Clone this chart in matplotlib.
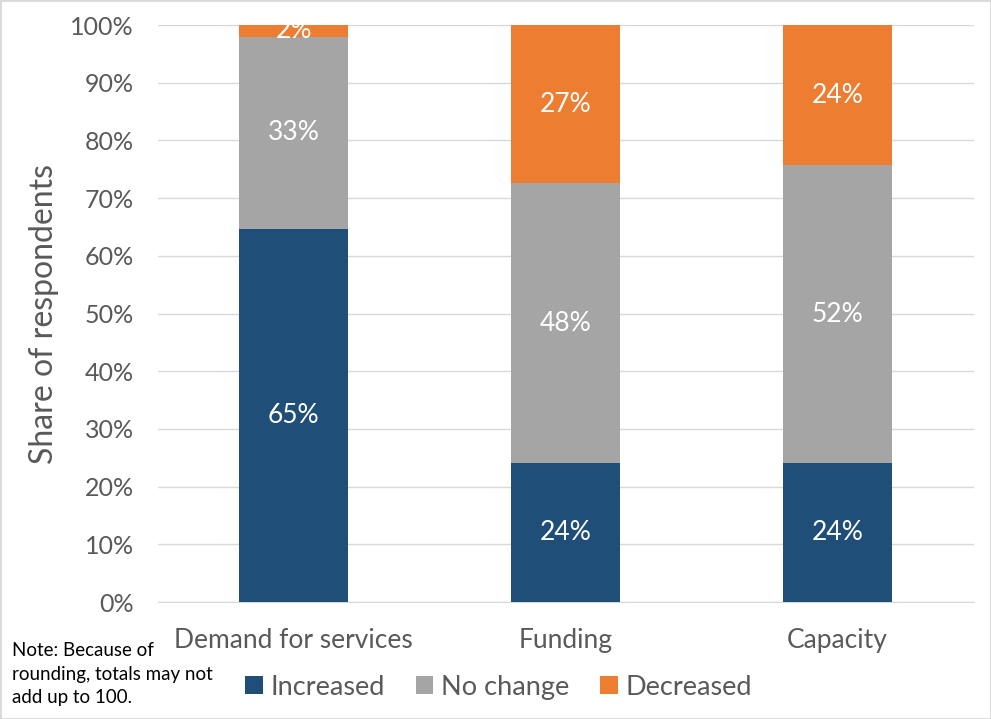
import numpy as np
import matplotlib.pyplot as plt
from matplotlib.patches import Rectangle

plt.rcParams['font.family'] = ['Lato', 'DejaVu Sans']

categories = ["Demand for services", "Funding", "Capacity"]
increased = [64.6, 24.1, 24.1]
no_change = [33.4, 48.5, 51.6]
decreased = [2.1, 27.4, 24.3]
series_names = ["Increased", "No change", "Decreased"]
colors = ["#1F4E79", "#A5A5A5", "#ED7D31"]

fig = plt.figure(figsize=(9.91, 7.19), dpi=100)
ax = fig.add_axes([0.159, 0.1627, 0.8234, 0.8025])

x = np.arange(len(categories))
bottom = np.zeros(len(categories))
handles = []
for vals, name, col in zip([increased, no_change, decreased], series_names, colors):
    vals = np.array(vals)
    b = ax.bar(x, vals, 0.4, bottom=bottom, color=col, label=name, zorder=3)
    handles.append(b)
    for xi, v, bt in zip(x, vals, bottom):
        ax.text(xi, bt + v / 2, f"{round(v)}%", ha="center", va="center",
                color="white", fontsize=19, zorder=4)
    bottom += vals

ax.set_xlim(-0.5, 2.5)
ax.set_ylim(0, 100)
ax.set_yticks(range(0, 101, 10))
ax.set_yticklabels([f"{t}%" for t in range(0, 101, 10)])
ax.set_xticks(x)
ax.set_xticklabels(categories)
ax.tick_params(axis="both", length=0, labelcolor="#595959")
ax.tick_params(axis="x", pad=19, labelsize=19)
ax.tick_params(axis="y", pad=17, labelsize=18)
ax.grid(axis="y", color="#D9D9D9", linewidth=1, zorder=0)
for s in ["top", "right", "left"]:
    ax.spines[s].set_visible(False)
ax.spines["bottom"].set_color("#D9D9D9")
ax.set_ylabel("Share of respondents", fontsize=23, color="#595959", labelpad=8)

fig.legend(handles=handles, labels=series_names, loc="center", bbox_to_anchor=(0.503, 0.044),
           ncol=3, frameon=False, fontsize=19.5, labelcolor="#595959",
           handlelength=0.65, handleheight=0.65, handletextpad=0.28, columnspacing=1.15)

fig.text(0.012, 0.018, "Note: Because of\nrounding, totals may not\nadd up to 100.",
         fontsize=13.5, color="black", ha="left", va="bottom", linespacing=1.45)

fig.patches.append(Rectangle((0, 0), 1, 1, transform=fig.transFigure, fill=False,
                             edgecolor="#D9D9D9", linewidth=2))

fig.savefig("out.png", dpi=100)
